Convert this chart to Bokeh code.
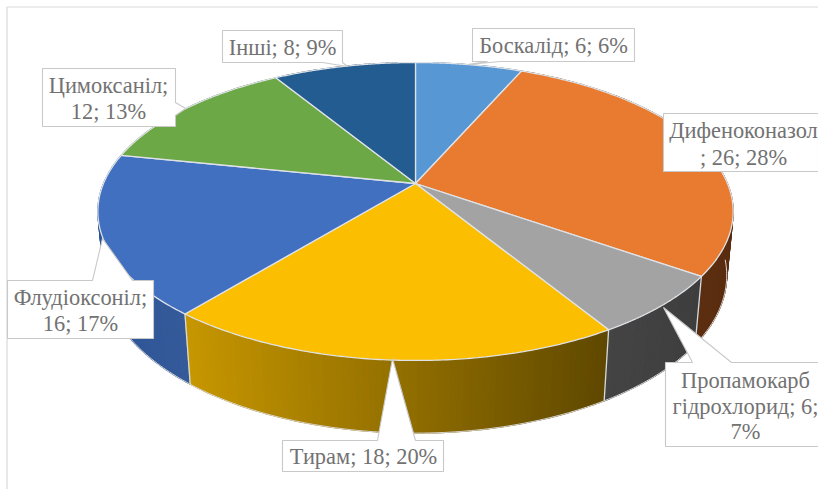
import numpy as np
from bokeh.plotting import figure
from bokeh.models import Range1d
from bokeh.core.properties import value
from bokeh.embed import file_html
from bokeh.resources import INLINE

# data
categories = ["Боскалід", "Дифеноконазол", "Пропамокарб гідрохлорид", "Тирам", "Флудіоксоніл", "Цимоксаніл", "Інші"]
values = [6, 26, 6, 18, 16, 12, 8]
percents = [6, 28, 7, 20, 17, 13, 9]
top_colors = ["#5797D3", "#E97B30", "#A3A3A3", "#FCBE00", "#4270C0", "#6CA845", "#235C90"]
side_left = ["#35608A", "#6A3512", "#444444", "#C79700", "#2D5597", "#47702C", "#173C5E"]
side_right = ["#35608A", "#5A2D10", "#3E3E3E", "#5F4800", "#355A9A", "#47702C", "#173C5E"]

# projection of the tilted disc
CX, CY = 415.0, 183.0
A, B, K = 312.0, 143.7, 0.188
W0, DROP = 1.02, 64.0

def top_xy(t):
    u, v = np.sin(t), np.cos(t)
    w = 1 + K * v
    return CX + A * u / w, CY - B * v / w

def bot_xy(t):
    u, v = np.sin(t), np.cos(t)
    w = W0 + K * v
    return CX + A * u / w, CY + (-B * v + DROP) / w

def mix(c1, c2, f):
    a = [int(c1[i:i + 2], 16) for i in (1, 3, 5)]
    b = [int(c2[i:i + 2], 16) for i in (1, 3, 5)]
    return "#%02x%02x%02x" % tuple(int(round(x + (y - x) * f)) for x, y in zip(a, b))

p = figure(width=818, height=489, x_range=Range1d(0, 818), y_range=Range1d(489, 0),
           output_backend="svg", toolbar_location=None, min_border=0,
           x_axis_location=None, y_axis_location=None, outline_line_color=None)
p.grid.visible = False
p.background_fill_color = "white"
p.border_fill_color = "white"

# chart frame (left and top edges fall inside the window)
p.line([818, 6.5, 6.5], [6.5, 6.5, 489], line_color="#d9d9d9", line_width=1.2)

fr = np.cumsum([0] + values) / sum(values) * 2 * np.pi

# side strips
sx, sy, sc, key = [], [], [], []
for i in range(len(values)):
    n = max(2, int((fr[i + 1] - fr[i]) / np.radians(1.0)))
    ts = np.linspace(fr[i], fr[i + 1], n + 1)
    tx0, _ = top_xy(ts)
    xmin, xmax = tx0.min(), tx0.max()
    for a, b in zip(ts[:-1], ts[1:]):
        xa, ya = top_xy(a); xb, yb = top_xy(b)
        xc, yc = bot_xy(b); xd, yd = bot_xy(a)
        f = ((xa + xb) / 2 - xmin) / max(xmax - xmin, 1)
        sx.append([xa, xb, xc, xd]); sy.append([ya, yb, yc, yd])
        sc.append(mix(side_left[i], side_right[i], f))
        key.append(np.cos((a + b) / 2))
order = np.argsort(key)[::-1]
p.patches([sx[j] for j in order], [sy[j] for j in order],
          fill_color=[sc[j] for j in order], line_color=[sc[j] for j in order], line_width=1.2)

# bottom rim of the visible side
tf = np.linspace(np.radians(95), np.radians(262), 200)
bx, by = bot_xy(tf)
p.line(bx, by, line_color="#d6d6d6", line_width=1)

# seams on the visible side
for f in fr:
    if np.cos(f) < -0.2:
        x0, y0 = top_xy(f); x1, y1 = bot_xy(f)
        p.line([x0, x1], [y0, y1], line_color="#d5dae0", line_width=1.3)

# top face
for i in range(len(values)):
    ts = np.linspace(fr[i], fr[i + 1], 120)
    x, y = top_xy(ts)
    p.patch(np.r_[CX, x], np.r_[CY, y], fill_color=top_colors[i],
            line_color="#dfe3e8", line_width=1.3)

# callouts
callouts = [
    ([472, 472, 487, 467, 500, 634, 634], [28, 61, 61, 64, 61, 61, 28]),
    ([663, 818, 818, 663], [113, 113, 171, 171]),
    ([665, 692, 663, 731, 830, 830, 665], [362, 362, 307, 362, 362, 446, 446]),
    ([282, 377, 392, 415, 443, 443, 282], [440, 440, 358, 440, 440, 471, 471]),
    ([7, 92, 102, 132, 153, 153, 7], [280, 280, 238, 280, 280, 338, 338]),
    ([42, 175, 175, 185, 175, 175, 42], [68, 68, 102, 108, 115, 126, 126]),
    ([222, 342, 342, 347, 322, 222], [30, 30, 62, 66, 62, 62]),
]
for cx_, cy_ in callouts:
    p.patch(cx_, cy_, fill_color="white", line_color="#c9c9c9", line_width=1.1)

lines = [
    ([f"{categories[0]}; {values[0]}; {percents[0]}%"], 553, [45]),
    ([f"{categories[1]}", f"; {values[1]}; {percents[1]}%"], 743, [130, 157]),
    (["Пропамокарб", f"гідрохлорид; {values[2]};", f"{percents[2]}%"], 745, [380, 406, 431]),
    ([f"{categories[3]}; {values[3]}; {percents[3]}%"], 363, [456]),
    ([f"{categories[4]};", f"{values[4]}; {percents[4]}%"], 80, [297, 323]),
    ([f"{categories[5]};", f"{values[5]}; {percents[5]}%"], 108, [85, 111]),
    ([f"{categories[6]}; {values[6]}; {percents[6]}%"], 282, [47]),
]
tx, ty, tt = [], [], []
for ls, x, ys in lines:
    for l, y in zip(ls, ys):
        tx.append(x); ty.append(y); tt.append(l)
p.text(x=tx, y=ty, text=tt, text_font=value("Liberation Serif"), text_font_size="22.4px",
       text_color="#727272", text_align="center", text_baseline="middle")

open("out.html", "w").write(file_html(p, INLINE))
